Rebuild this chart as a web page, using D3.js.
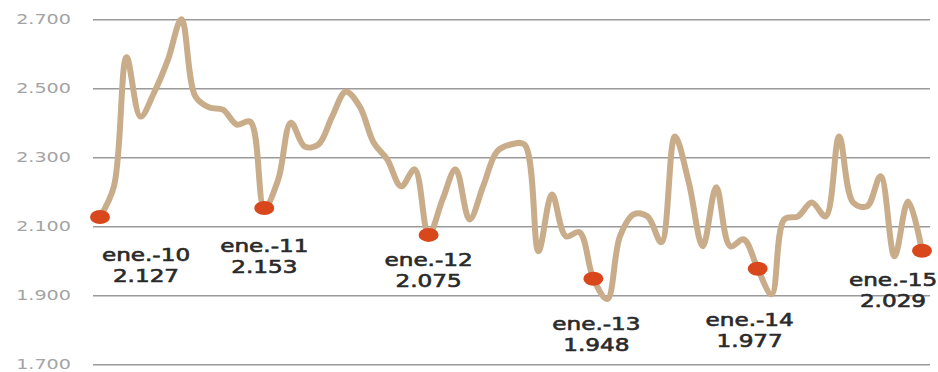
<!DOCTYPE html>
<html>
<head>
<meta charset="utf-8">
<script src="https://cdn.jsdelivr.net/npm/d3@7"></script>
<style>
  body { margin: 0; background: #fff; }
  svg { display: block; }
</style>
</head>
<body>
<div class="chart"></div>
<script>
// monthly values, ene.-10 .. ene.-15
var values = [
  2127, 2216, 2590, 2418, 2487, 2583, 2700, 2476, 2444, 2438, 2395, 2403,
  2153, 2236, 2400, 2331, 2337, 2419, 2490, 2447, 2342, 2294, 2216, 2265,
  2075, 2178, 2265, 2120, 2216, 2317, 2337, 2337, 2028, 2192, 2071, 2083,
  1948, 1889, 2071, 2135, 2129, 2054, 2360, 2227, 2042, 2213, 2042, 2062,
  1977, 1903, 2120, 2129, 2169, 2129, 2360, 2169, 2158, 2245, 2013, 2172,
  2029
];
var januaryLabels = ["ene.-10", "ene.-11", "ene.-12", "ene.-13", "ene.-14", "ene.-15"];
var januaryIndex = [0, 12, 24, 36, 48, 60];
var yTicks = [1700, 1900, 2100, 2300, 2500, 2700];

// label placement relative to its dot
var labelOffsets = [[46, 44], [0, 44], [0, 31], [3, 51], [-8, 57], [-29, 35]];

var width = 938, height = 372;
var months = d3.timeMonth.range(new Date(2010, 0, 1), new Date(2015, 1, 1));

var esFormat = d3.formatLocale({decimal: ",", thousands: ".", grouping: [3], currency: ["", "€"]}).format(",d");

var x = d3.scaleTime()
          .domain([months[0], months[months.length - 1]])
          .range([100, 922]);

var y = d3.scaleLinear()
          .domain([1700, 2700])
          .range([364.3, 19.3]);

var svg = d3.select(".chart").append("svg")
            .attr("width", width)
            .attr("height", height);

// gridlines
svg.append("g")
   .attr("transform", "translate(93,0)")
   .call(d3.axisLeft(y).tickValues(yTicks).tickSize(-837).tickFormat(""))
   .call(function(g){
      g.select(".domain").remove();
      g.selectAll(".tick line")
       .attr("stroke", "#9a9a9a")
       .attr("stroke-width", 1.6);
   });

// y labels
svg.append("g")
   .selectAll("text")
   .data(yTicks)
   .enter().append("text")
   .attr("transform", function(d){ return "translate(71," + (y(d) + 5) + ") scale(1.42,1)"; })
   .attr("text-anchor", "end")
   .style("font-family", "DejaVu Sans")
   .style("font-size", "13.5px")
   .style("fill", "#a3a3a3")
   .text(function(d){ return esFormat(d); });

// line
var line = d3.line()
             .x(function(d, i){ return x(months[i]); })
             .y(function(d){ return y(d); })
             .curve(d3.curveCatmullRom.alpha(0.5));

svg.append("path")
   .datum(values)
   .attr("d", line)
   .attr("fill", "none")
   .attr("stroke", "#c9ad8a")
   .attr("stroke-width", 6)
   .attr("stroke-linejoin", "round")
   .attr("stroke-linecap", "round");

// january dots
svg.append("g")
   .selectAll("ellipse")
   .data(januaryIndex)
   .enter().append("ellipse")
   .attr("cx", function(d){ return x(months[d]); })
   .attr("cy", function(d){ return y(values[d]); })
   .attr("rx", 10)
   .attr("ry", 7)
   .style("fill", "#d9481c");

// january labels
var labels = svg.append("g")
   .selectAll("g")
   .data(januaryIndex)
   .enter().append("g")
   .attr("transform", function(d, i){
      var cx = x(months[d]) + labelOffsets[i][0];
      var cy = y(values[d]) + labelOffsets[i][1];
      return "translate(" + cx + "," + cy + ")";
   });

labels.append("text")
      .attr("transform", "scale(1.36,1)")
      .attr("text-anchor", "middle")
      .style("font-family", "DejaVu Sans")
      .style("font-size", "17px")
      .style("fill", "#2a2a2a")
      .style("stroke", "#2a2a2a")
      .style("stroke-width", 0.6)
      .text(function(d, i){ return januaryLabels[i]; });

labels.append("text")
      .attr("transform", "translate(0,21) scale(1.36,1)")
      .attr("text-anchor", "middle")
      .style("font-family", "DejaVu Sans")
      .style("font-size", "17px")
      .style("fill", "#2a2a2a")
      .style("stroke", "#2a2a2a")
      .style("stroke-width", 0.6)
      .text(function(d){ return esFormat(values[d]); });
</script>
</body>
</html>
